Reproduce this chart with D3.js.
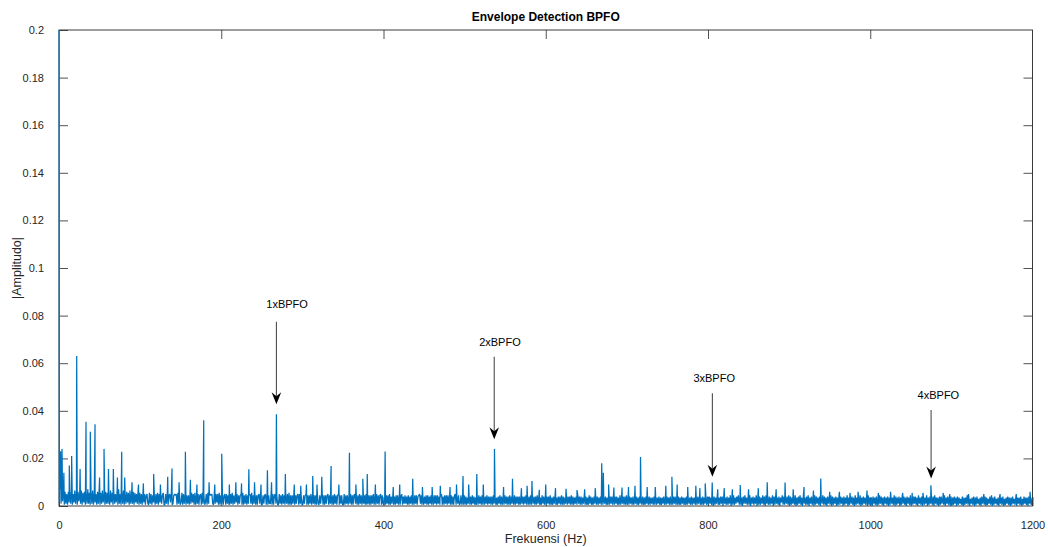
<!DOCTYPE html>
<html><head><meta charset="utf-8">
<script src="https://cdn.jsdelivr.net/npm/d3@7"></script>
<style>
html,body{margin:0;padding:0;background:#fff;}
svg{display:block;font-family:"Liberation Sans",Arial,Helvetica,sans-serif;}
</style></head>
<body>
<svg id="chart" width="1048" height="547"></svg>
<script>
// ---------- DATA ----------
const title = "Envelope Detection BPFO";
const xLabel = "Frekuensi (Hz)";
const yLabel = "|Amplitudo|";
const xTicks = [0, 200, 400, 600, 800, 1000, 1200];
const yTicks = [0, 0.02, 0.04, 0.06, 0.08, 0.1, 0.12, 0.14, 0.16, 0.18, 0.2];
const xDomain = [0, 1200];
const yDomain = [0, 0.2];
// noise floor, one row per 100 Hz, each char = amplitude in units of 0.0005 (base-36 digit)
const noiseRows = [
"3e2b4d1c2a1c3b2e1a3d2b1c4a2d1b3c1a2e2b1c2d1b3a1c2e1b2d3a1c2b2a1d3b1c2a3b1e2a1c2d1a2c3b1d2a2c1b3a2d1b",
"2a1b3a19a21b2a19391a2b1a3a29b11a2b19a3b129a9a1b2a13b1a2a19291a2b3a1b192a19a1b2a13a1b29a9a21b2a3a1b19",
"2919a1a2911a2b19293a1929a1b192a1929a2b192a1919a2b11929a1a1922b1a19a2911a291a29192a1b19192a1929a1a291",
"1929a19192a1929191a21929a191929a1929191a2919a192911a1929192a1919a29191a2919291a12919192a191a2919a192",
"1819291a18291819291818a182928191829181929189a29181829191829181929192818a1819291928191819a18291291819",
"1817291819281718192819181829182818192817182918181928181918281918281819281829181819182818192817192818",
"1828191718291718281918172918281918172819281817291817192817182918172819172817191828191828171918281819",
"1718271817281718271817182718172718181728171728171827181718281718171827171817271817271718271718172718",
"1827190817291718280927181729081917283918170829271819072817290818172918092718172908192718073918172819",
"0817281907182917082718190728170918271807291817082719081728071918270817290718281709172819071827180917",
"1708271807192817082718071827190817280719281708271907182817092718081729071827180927170818271907281708",
"0718270817261807172918062718071826170827180716281907182617082718061728170718261807271806182717082617"
];
// distinct spectral lines: frequency (Hz) and amplitude
const peakFreq = [0, 1, 2, 3.7, 6, 12.7, 15.6, 21.8, 26, 33.3, 38.6, 44.4, 50, 55.5, 61, 67, 72, 77.3, 81, 90, 98,
  104, 116.7, 125, 134, 139.3, 148, 155.8, 162, 170, 178.4, 185, 192, 200.6, 210, 218, 225, 234, 241, 249, 256.9, 262,
  268, 279, 290, 298, 305, 312.8, 318, 323.9, 335.4, 345, 358, 366, 374.5, 380, 390, 402, 412, 420, 436, 448, 460, 470,
  482, 490, 498, 505, 515, 523, 536.8, 548, 559, 570, 577, 583, 592, 600, 612, 625, 638.5, 648, 661, 669, 671, 677.5, 684, 694, 702, 710,
  716.8, 725, 735, 748, 755.5, 762, 775, 785, 790, 796.6, 805.2, 812, 820, 830, 839.7, 850, 862, 873, 884, 895, 905,
  918.4, 930, 939, 950, 962, 975, 985, 996, 1010, 1025, 1040, 1051.6, 1065, 1074.8, 1090, 1098, 1121, 1140, 1160, 1180, 1197];
const peakAmp = [0.26, 0.022, 0.023, 0.024, 0.014, 0.017, 0.021, 0.063, 0.0155, 0.0354, 0.0312, 0.0343, 0.012, 0.024, 0.0155, 0.0155, 0.012, 0.0228, 0.012, 0.010, 0.009,
  0.0095, 0.0134, 0.009, 0.0123, 0.0158, 0.010, 0.0228, 0.011, 0.009, 0.036, 0.010, 0.009, 0.022, 0.009, 0.010, 0.0095, 0.0154, 0.010, 0.009, 0.015, 0.010,
  0.0386, 0.0134, 0.009, 0.0085, 0.009, 0.0126, 0.009, 0.0123, 0.0168, 0.009, 0.0224, 0.009, 0.0114, 0.0134, 0.009, 0.0229, 0.008, 0.009, 0.0114, 0.008, 0.008, 0.0085,
  0.008, 0.009, 0.0126, 0.009, 0.0134, 0.009, 0.024, 0.008, 0.0114, 0.0075, 0.0085, 0.0105, 0.0068, 0.009, 0.0075, 0.0072, 0.0067, 0.007, 0.0075, 0.018, 0.014, 0.009, 0.0078, 0.0078, 0.008, 0.0085,
  0.0206, 0.008, 0.008, 0.0085, 0.0123, 0.009, 0.008, 0.0085, 0.0075, 0.0095, 0.0099, 0.007, 0.0075, 0.007, 0.0088, 0.007, 0.0075, 0.010, 0.007, 0.0099, 0.007,
  0.008, 0.0065, 0.0116, 0.006, 0.006, 0.0055, 0.006, 0.0065, 0.0055, 0.006, 0.0055, 0.0055, 0.0055, 0.0087, 0.0055, 0.005, 0.005, 0.005, 0.005, 0.005, 0.006];
// annotations (text arrows)
const annLabels = ["1xBPFO", "2xBPFO", "3xBPFO", "4xBPFO"];
const annFreq = [268, 536.5, 805.4, 1075];
const annTextFreq = [281.2, 543.5, 807.6, 1084];
const annTextAmp = [0.0849, 0.0688, 0.0537, 0.0466];
const annTailAmp = [0.0774, 0.0627, 0.0474, 0.0403];
const annHeadAmp = [0.0427, 0.028, 0.0123, 0.0116];

// ---------- BUILD SERIES ----------
const series = [];
noiseRows.forEach((row, r) => {
  const chars = row.split("");
  chars.forEach((c, i) => {
    series.push([r * 100 + i * 100 / chars.length + 0.5, parseInt(c, 36) * 0.0005]);
  });
});
peakFreq.forEach((f, i) => series.push([f, peakAmp[i]]));
series.sort((a, b) => a[0] - b[0]);

// ---------- DRAW ----------
const W = 1048, H = 547;
const m = {left: 59, top: 30, right: 1048 - 1032.5, bottom: 547 - 506};
const iw = W - m.left - m.right, ih = H - m.top - m.bottom;
const svg = d3.select("#chart");
const x = d3.scaleLinear().domain(xDomain).range([m.left, m.left + iw]);
const y = d3.scaleLinear().domain(yDomain).range([m.top + ih, m.top]);

svg.append("defs").append("clipPath").attr("id", "clip")
  .append("rect").attr("x", m.left - 1.5).attr("y", m.top).attr("width", iw + 1.5).attr("height", ih);

const axisColor = "#262626";
const tickLen = 9;
const fmtY = d => d === 0 ? "0" : d3.format("~g")(d);

// box
svg.append("rect").attr("x", m.left).attr("y", m.top).attr("width", iw).attr("height", ih)
  .attr("fill", "none").attr("stroke", axisColor).attr("stroke-width", 0.9);

function styleAxis(g, showLabels) {
  g.select(".domain").remove();
  g.selectAll(".tick line").attr("stroke", axisColor).attr("stroke-width", 0.8);
  g.selectAll(".tick text").attr("fill", axisColor).attr("font-size", 11)
    .attr("font-family", "'Liberation Sans', Arial, sans-serif");
  if (!showLabels) g.selectAll(".tick text").remove();
}
svg.append("g").attr("transform", `translate(0,${m.top + ih})`)
  .call(d3.axisBottom(x).tickValues(xTicks).tickSizeInner(-tickLen).tickSizeOuter(0).tickPadding(tickLen + 6).tickFormat(d3.format("d")))
  .call(g => styleAxis(g, true));
svg.append("g").attr("transform", `translate(0,${m.top})`)
  .call(d3.axisTop(x).tickValues(xTicks.slice(1, -1)).tickSizeInner(-tickLen).tickSizeOuter(0))
  .call(g => styleAxis(g, false));
svg.append("g").attr("transform", `translate(${m.left},0)`)
  .call(d3.axisLeft(y).tickValues(yTicks).tickSizeInner(-tickLen).tickSizeOuter(0).tickPadding(tickLen + 6).tickFormat(fmtY))
  .call(g => styleAxis(g, true));
svg.append("g").attr("transform", `translate(${m.left + iw},0)`)
  .call(d3.axisRight(y).tickValues(yTicks.slice(1, -1)).tickSizeInner(-tickLen).tickSizeOuter(0))
  .call(g => styleAxis(g, false));

// spectrum (drawn over the axes as in the original)
svg.append("path").datum(series)
  .attr("clip-path", "url(#clip)")
  .attr("fill", "none").attr("stroke", "#0072BD").attr("stroke-width", 1.25)
  .attr("stroke-linejoin", "bevel")
  .attr("d", d3.line().x(d => x(d[0])).y(d => y(d[1])));

// title and labels
svg.append("text").attr("x", m.left + iw / 2).attr("y", 21).attr("text-anchor", "middle")
  .attr("font-size", 12).attr("font-weight", "bold").attr("fill", "#000").text(title);
svg.append("text").attr("x", m.left + iw / 2).attr("y", 543).attr("text-anchor", "middle")
  .attr("font-size", 12.5).attr("fill", axisColor).text(xLabel);
svg.append("text").attr("transform", `translate(21,${m.top + ih / 2}) rotate(-90)`).attr("text-anchor", "middle")
  .attr("font-size", 12.5).attr("fill", axisColor).text(yLabel);

// annotations
annLabels.forEach((lab, i) => {
  const ax = x(annFreq[i]);
  const y0 = y(annTailAmp[i]), y1 = y(annHeadAmp[i]);
  svg.append("line").attr("x1", ax).attr("x2", ax).attr("y1", y0).attr("y2", y1 - 8)
    .attr("stroke", "#4d4d4d").attr("stroke-width", 1.1);
  svg.append("path")
    .attr("d", `M${ax},${y1} L${ax - 4.8},${y1 - 12} L${ax},${y1 - 8} L${ax + 4.8},${y1 - 12} Z`)
    .attr("fill", "#000");
  svg.append("text").attr("x", x(annTextFreq[i])).attr("y", y(annTextAmp[i])).attr("dy", "0.35em")
    .attr("text-anchor", "middle").attr("font-size", 11).attr("fill", "#000").text(lab);
});
</script>
</body></html>
